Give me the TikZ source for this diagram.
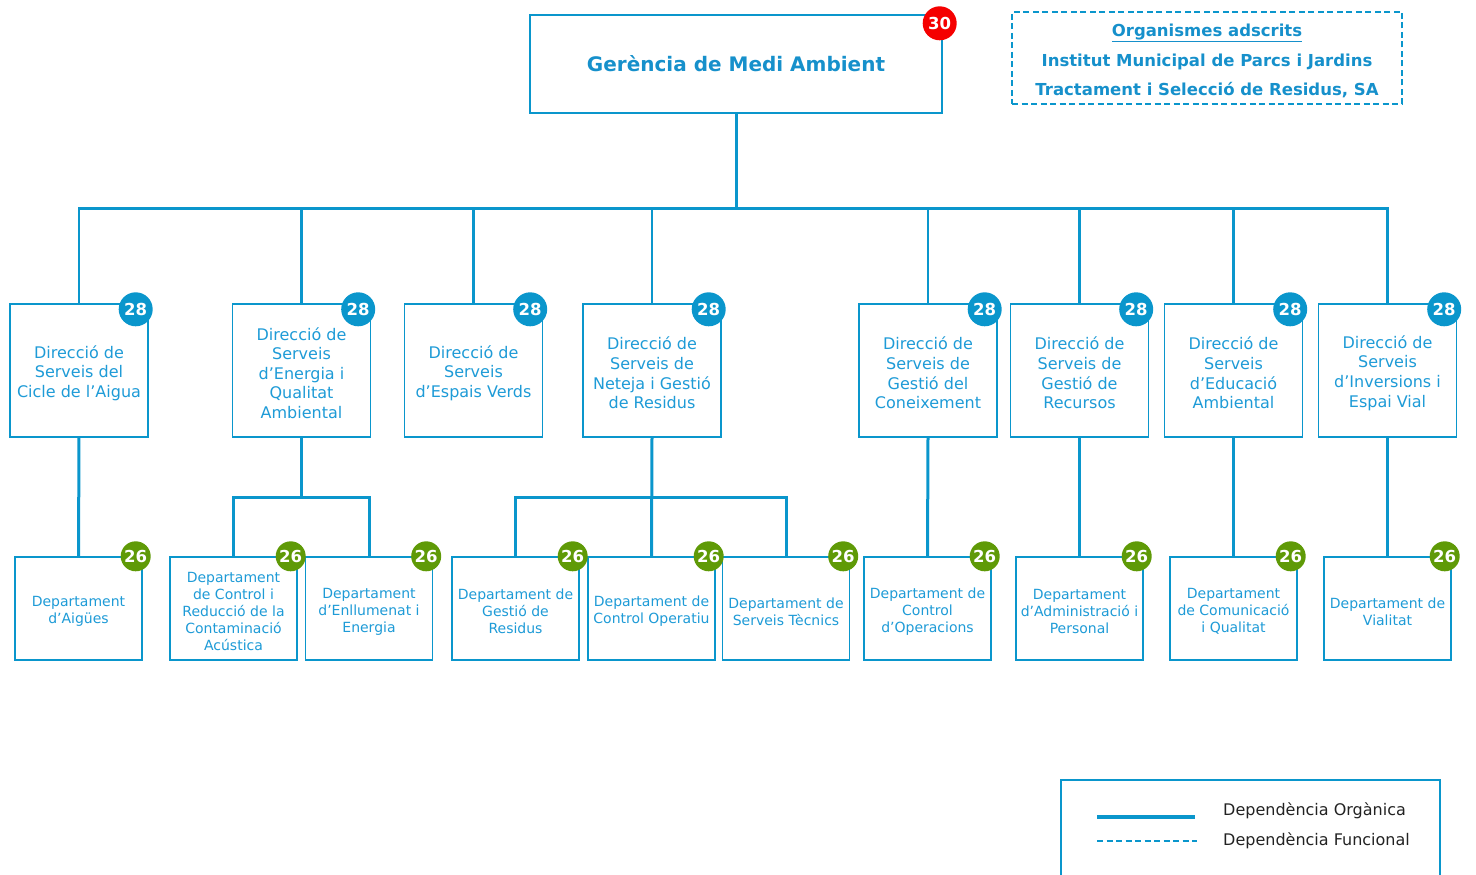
\documentclass[tikz,border=0pt]{standalone}
\usepackage{fontspec}
\setmainfont{DejaVu Sans}
\definecolor{linec}{HTML}{0A96CC}
\definecolor{txtc}{HTML}{1E9BD7}
\definecolor{titc}{HTML}{1690CB}
\definecolor{bluebadge}{HTML}{0A96CC}
\definecolor{greenbadge}{HTML}{5F9A07}
\definecolor{redbadge}{HTML}{F50000}
\definecolor{legtxt}{HTML}{222222}
\tikzset{
  conn/.style={draw=linec, line width=3pt},
  drop/.style={draw=linec, line width=2.5pt},
  dirbox/.style={draw=linec, line width=1.4pt, fill=white, minimum width=138pt, minimum height=133pt, inner sep=0pt},
  dirtxt/.style={inner sep=0pt, align=center, text=txtc, yshift=-2.5pt, font=\fontsize{16}{19.6}\selectfont},
  deptbox/.style={draw=linec, line width=1.4pt, fill=white, minimum width=127pt, minimum height=103pt, inner sep=0pt},
  depttxt/.style={inner sep=0pt, align=center, text=txtc, yshift=-3pt, font=\fontsize{14}{17}\selectfont},
  bbadge/.style={circle, fill=bluebadge, minimum size=34pt, inner sep=0pt, text=white, font=\bfseries\fontsize{16.5}{16.5}\selectfont},
  gbadge/.style={circle, fill=greenbadge, minimum size=30pt, inner sep=0pt, text=white, font=\bfseries\fontsize{16.5}{16.5}\selectfont},
  rbadge/.style={circle, fill=redbadge, minimum size=34pt, inner sep=0pt, text=white, font=\bfseries\fontsize{16.5}{16.5}\selectfont},
}
\newcommand\dirnode[3]{\node[dirbox, label={[dirtxt]center:{#3}}] (#1) at #2 {};}
\newcommand\deptnode[3]{\node[deptbox, label={[depttxt]center:{#3}}] (#1) at #2 {};}
\begin{document}
\begin{tikzpicture}[x=1pt,y=-1pt]
\useasboundingbox (0,0) rectangle (1476,875);

% top
\node[draw=linec, line width=1.4pt, minimum width=412pt, minimum height=98pt, inner sep=0pt, text=titc, font=\bfseries\fontsize{20}{24}\selectfont] (top) at (736,64) {Gerència de Medi Ambient};
\node[rbadge] (btop) at ([shift={(-3,9)}]top.north east) {30};

% organismes
\node[draw=linec, dash pattern=on 6pt off 3.5pt, line width=2.2pt, minimum width=390pt, minimum height=92pt, inner sep=0pt] (org) at (1207,58) {};
\node[text=titc, align=center, font=\bfseries\fontsize{16.5}{29.5}\selectfont, inner sep=0pt] (orgtxt) at (1207,61) {\underline{Organismes adscrits}\\Institut Municipal de Parcs i Jardins\\Tractament i Selecció de Residus, SA};

% level 2
\dirnode{a}{(79,370.5)}{Direcció de\\Serveis del\\Cicle de l’Aigua}
\dirnode{b}{(301.5,370.5)}{Direcció de\\Serveis\\d’Energia i\\Qualitat\\Ambiental}
\dirnode{c}{(473.5,370.5)}{Direcció de\\Serveis\\d’Espais Verds}
\dirnode{d}{(652,370.5)}{Direcció de\\Serveis de\\Neteja i Gestió\\de Residus}
\dirnode{e}{(928,370.5)}{Direcció de\\Serveis de\\Gestió del\\Coneixement}
\dirnode{f}{(1079.5,370.5)}{Direcció de\\Serveis de\\Gestió de\\Recursos}
\dirnode{g}{(1233.5,370.5)}{Direcció de\\Serveis\\d’Educació\\Ambiental}
\dirnode{h}{(1387.5,370.5)}{Direcció de\\Serveis\\d’Inversions i\\Espai Vial}

% level 3
\deptnode{a1}{(78.5,608.5)}{Departament\\d’Aigües}
\deptnode{b1}{(233.5,608.5)}{Departament\\de Control i\\Reducció de la\\Contaminació\\Acústica}
\deptnode{b2}{(369,608.5)}{Departament\\d’Enllumenat i\\Energia}
\deptnode{d1}{(515.5,608.5)}{Departament de\\Gestió de\\Residus}
\deptnode{d2}{(651.5,608.5)}{Departament de\\Control Operatiu}
\deptnode{d3}{(786,608.5)}{Departament de\\Serveis Tècnics}
\deptnode{e1}{(927.5,608.5)}{Departament de\\Control\\d’Operacions}
\deptnode{f1}{(1079.5,608.5)}{Departament\\d’Administració i\\Personal}
\deptnode{g1}{(1233.5,608.5)}{Departament\\de Comunicació\\i Qualitat}
\deptnode{h1}{(1387.5,608.5)}{Departament de\\Vialitat}

% connectors
\coordinate (busL) at (78,208);
\coordinate (busR) at (1388.5,208);
\draw[conn] (top.south) -- (top.south |- busL);
\draw[conn] (busL) -- (busR);
\foreach \n in {a,b,c,d,e,f,g,h}{
  \draw[drop] (\n.north) -- (\n.north |- busL);
}
\draw[conn] (a.south) -- (a1.north);
\draw[conn] (e.south) -- (e1.north);
\draw[conn] (f.south) -- (f1.north);
\draw[conn] (g.south) -- (g1.north);
\draw[conn] (h.south) -- (h1.north);
\coordinate (jb) at (301.5,497);
\coordinate (jd) at (652,497);
\draw[conn] (b.south) -- (jb);
\draw[conn] (b1.north) |- (jb) -| (b2.north);
\draw[conn] (d.south) -- (d2.north);
\draw[conn] (d1.north) |- (jd) -| (d3.north);

% badges
\foreach \n in {a,b,c,d,e,f,g,h}{
  \node[bbadge] (bb\n) at ([shift={(-13,6)}]\n.north east) {28};
}
\foreach \n in {a1,b1,b2,d1,d2,d3,e1,f1,g1,h1}{
  \node[gbadge] (gb\n) at ([shift={(-7,0)}]\n.north east) {26};
}

% legend
\coordinate (lg1) at (1061,876);
\coordinate (lg2) at (1440,876);
\draw[draw=linec, line width=1.4pt] (lg1) -- (1061,780) -- (1440,780) -- (lg2);
\coordinate (ls1) at (1097,817);
\coordinate (ls2) at (1195,817);
\coordinate (ld1) at (1097,841);
\coordinate (ld2) at (1197,841);
\draw[draw=linec, line width=4pt] (ls1) -- (ls2);
\draw[draw=linec, line width=2pt, dash pattern=on 6pt off 3.5pt] (ld1) -- (ld2);
\node[anchor=west, text=legtxt, font=\fontsize{16}{18}\selectfont, inner sep=0pt] (lt1) at (1223,811) {Dependència Orgànica};
\node[anchor=west, text=legtxt, font=\fontsize{16}{18}\selectfont, inner sep=0pt] (lt2) at (1223,841) {Dependència Funcional};
\end{tikzpicture}
\end{document}
